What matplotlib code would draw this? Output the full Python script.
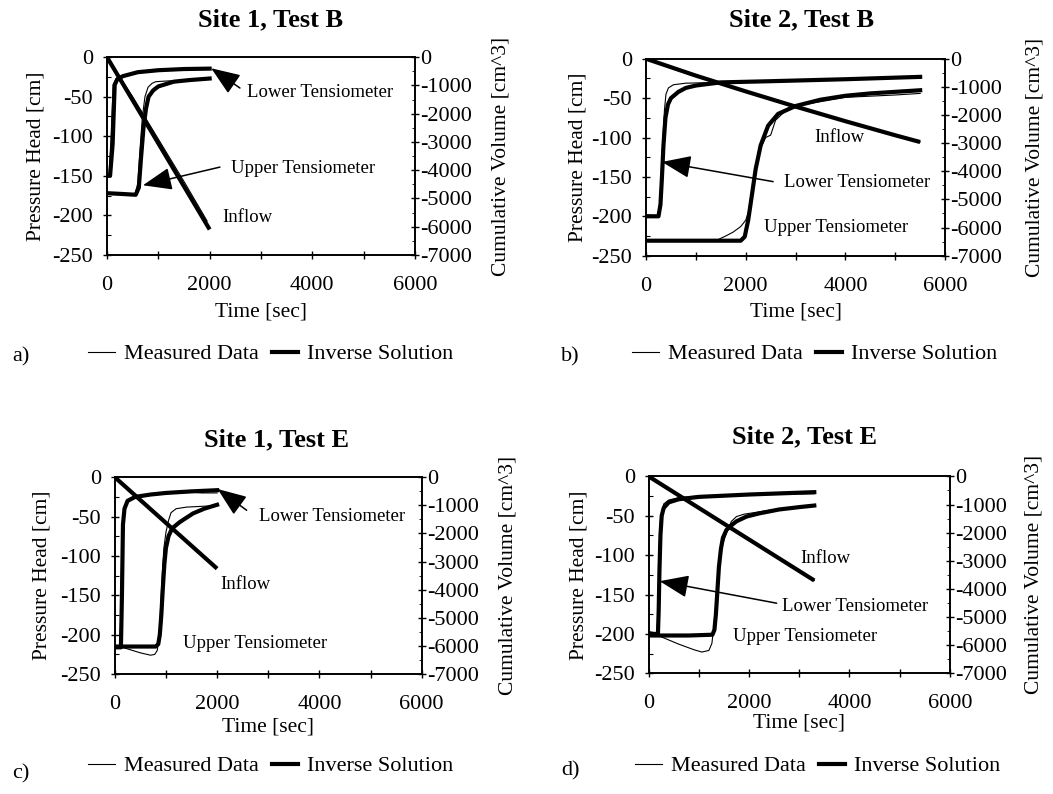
import matplotlib
matplotlib.use('Agg')
import matplotlib.pyplot as plt
from matplotlib.ticker import MultipleLocator

plt.rcParams['font.family'] = ['Liberation Serif', 'DejaVu Serif']
plt.rcParams['axes.unicode_minus'] = False

# ---------------- Site 1, Test B ----------------
a_low_meas_t = [0, 40, 80, 120, 180, 300, 600, 1000, 1500, 2000]
a_low_meas_h = [-152, -150, -100, -35, -27, -23, -19, -16.5, -15, -14.5]
a_low_inv_t = [0, 60, 110, 150, 200, 310, 600, 1000, 1500, 2000]
a_low_inv_h = [-150, -150, -110, -35, -28, -24, -19, -16.5, -15, -14.5]
a_up_meas_t = [0, 300, 540, 600, 640, 690, 740, 800, 880, 950, 1200, 1600, 2000]
a_up_meas_h = [-172, -173, -174, -160, -120, -75, -50, -38, -33, -31, -30, -29, -28]
a_up_inv_t = [0, 300, 560, 620, 660, 710, 760, 810, 900, 1000, 1300, 1600, 2000]
a_up_inv_h = [-172, -173, -174, -165, -130, -90, -65, -50, -42, -37, -31, -29, -27]
a_flow_meas_t = [0, 500, 1000, 1500, 1950]
a_flow_meas_v = [0, -1400, -2900, -4400, -5800]
a_flow_inv_t = [0, 2000]
a_flow_inv_v = [0, -6100]

# ---------------- Site 2, Test B ----------------
b_low_meas_t = [0, 240, 280, 310, 340, 370, 400, 450, 550, 800, 1500, 2500, 4000, 5500]
b_low_meas_h = [-198, -200, -180, -140, -100, -65, -45, -37, -33, -31, -30, -28.5, -26, -24]
b_low_inv_t = [0, 250, 290, 320, 350, 390, 440, 500, 650, 800, 1000, 1500, 2500, 4000, 5500]
b_low_inv_h = [-200, -200, -185, -150, -110, -75, -58, -50, -42, -37, -34, -30, -28.5, -26, -23]
b_up_meas_t = [0, 1400, 1600, 1750, 1900, 2000, 2080, 2150, 2250, 2400, 2500, 2600, 2800, 3000,
               4000, 5000, 5500]
b_up_meas_h = [-231, -231, -225, -220, -213, -205, -190, -160, -120, -100, -97, -78, -66, -60,
               -49, -46, -44]
b_up_inv_t = [0, 1000, 1900, 1980, 2050, 2120, 2200, 2300, 2450, 2650, 3000, 3500, 4000, 4500,
              5000, 5500]
b_up_inv_h = [-231, -231, -231, -226, -205, -175, -140, -110, -85, -70, -60, -52, -47, -44, -42, -40]
b_flow_meas_t = [0, 500, 1000, 2000, 3000, 4000, 5000, 5500]
b_flow_meas_v = [0, -300, -600, -1160, -1700, -2220, -2720, -2960]
b_flow_inv_t = [0, 500, 1000, 2000, 3000, 4000, 5000, 5500]
b_flow_inv_v = [0, -300, -600, -1160, -1700, -2220, -2720, -2960]

# ---------------- Site 1, Test E ----------------
c_low_meas_t = [0, 100, 120, 140, 170, 230, 400, 700, 1000, 1500, 1700, 2000]
c_low_meas_h = [-216, -216, -170, -80, -45, -32, -26, -23, -21, -19, -20, -20]
c_low_inv_t = [0, 120, 140, 160, 190, 250, 400, 700, 1000, 1500, 2000]
c_low_inv_h = [-216, -216, -150, -60, -40, -30, -25, -22, -20, -18, -16.5]
c_up_meas_t = [0, 150, 300, 500, 700, 780, 830, 870, 900, 930, 960, 1000, 1050, 1100, 1200,
               1400, 1700, 2000]
c_up_meas_h = [-215, -216, -219, -223, -226, -225, -220, -200, -160, -120, -90, -70, -55, -45,
               -40, -38, -37, -36]
c_up_inv_t = [0, 400, 800, 850, 880, 910, 940, 970, 1000, 1050, 1120, 1270, 1530, 1750, 2000]
c_up_inv_h = [-215, -215, -215, -212, -200, -175, -140, -110, -90, -75, -65, -57, -46, -40, -35]
c_flow_meas_t = [0, 1000, 1980]
c_flow_meas_v = [0, -1620, -3210]
c_flow_inv_t = [0, 2000]
c_flow_inv_v = [0, -3250]

# ---------------- Site 2, Test E ----------------
d_low_meas_t = [0, 170, 190, 210, 240, 300, 400, 600, 1000, 2000, 3300]
d_low_meas_h = [-197, -199, -160, -90, -50, -35, -30, -27, -25, -23, -22]
d_low_inv_t = [0, 185, 200, 215, 235, 260, 300, 400, 600, 1000, 2000, 3300]
d_low_inv_h = [-200, -200, -170, -120, -75, -50, -40, -33, -29, -26, -23, -20]
d_up_meas_t = [0, 300, 600, 900, 1060, 1200, 1260, 1300, 1340, 1380, 1420, 1480, 1560, 1650,
               1750, 1900, 2100, 2400, 3000, 3300]
d_up_meas_h = [-197, -205, -213, -220, -223, -221, -212, -190, -160, -125, -100, -85, -70, -57,
               -51, -48, -46, -43, -39, -37]
d_up_inv_t = [0, 800, 1270, 1310, 1340, 1370, 1400, 1440, 1480, 1550, 1650, 1750, 1950, 2200,
              2600, 3000, 3300]
d_up_inv_h = [-202, -202, -201, -195, -175, -145, -115, -92, -78, -68, -62, -57, -51, -47, -42,
              -39, -37]
d_flow_meas_t = [0, 1650, 3300]
d_flow_meas_v = [0, -1850, -3700]
d_flow_inv_t = [0, 3300]
d_flow_inv_v = [0, -3700]

THICK = 3.0
THIN = 0.8


def panel(fig, rect, title, title_xy, low_meas, low_inv, up_meas, up_inv, flow_meas, flow_inv,
          labels, arrows, ylab_x, ylab2_x, xlab_y):
    ax = fig.add_axes(rect)
    ax2 = ax.twinx()

    ax.plot(low_inv[0], low_inv[1], color='black', lw=THICK, solid_joinstyle='round')
    ax.plot(up_inv[0], up_inv[1], color='black', lw=THICK, solid_joinstyle='round')
    ax.plot(low_meas[0], low_meas[1], color='black', lw=THIN)
    ax.plot(up_meas[0], up_meas[1], color='black', lw=THIN)
    ax2.plot(flow_inv[0], flow_inv[1], color='black', lw=THICK, solid_capstyle='butt')
    ax2.plot(flow_meas[0], flow_meas[1], color='black', lw=THIN)

    ax.set_xlim(0, 6000)
    ax.set_ylim(-250, 0)
    ax2.set_ylim(-7000, 0)

    ax.xaxis.set_major_locator(MultipleLocator(2000))
    ax.xaxis.set_minor_locator(MultipleLocator(1000))
    ax.yaxis.set_major_locator(MultipleLocator(50))
    ax.yaxis.set_minor_locator(MultipleLocator(25))
    ax2.yaxis.set_major_locator(MultipleLocator(1000))
    ax2.yaxis.set_minor_locator(MultipleLocator(500))

    ax.tick_params(axis='x', which='major', direction='inout', length=6, width=1,
                   labelsize=16, pad=12, top=False)
    ax.tick_params(axis='x', which='minor', direction='inout', length=6, width=1, top=False)
    ax.tick_params(axis='y', which='major', direction='inout', length=6, width=1,
                   labelsize=16, pad=7, right=False)
    ax.tick_params(axis='y', which='minor', direction='in', length=3, width=0.8, right=False)
    ax2.tick_params(axis='y', which='major', direction='inout', length=6, width=1,
                    labelsize=16, pad=1)
    ax2.tick_params(axis='y', which='minor', direction='in', length=2, width=0.6)
    for a_ in (ax, ax2):
        for s in a_.spines.values():
            s.set_linewidth(1.2)

    ax.set_ylabel('Pressure Head [cm]', fontsize=15.5)
    ax.yaxis.set_label_coords(ylab_x, 0.5)
    ax2.set_ylabel('Cumulative Volume [cm^3]', fontsize=15.5)
    ax2.yaxis.set_label_coords(ylab2_x, 0.5)
    ax.set_xlabel('Time [sec]', fontsize=15.5)
    ax.xaxis.set_label_coords(0.5, xlab_y)

    fig.text(title_xy[0] / 1053, 1 - title_xy[1] / 794, title, fontsize=19, fontweight='bold',
             ha='center', va='center')

    for txt, x, y in labels:
        ax.text(x, y, txt, fontsize=13.5, ha='center', va='center')
    for tail, tip in arrows:
        ax.annotate('', xy=tip, xytext=tail,
                    arrowprops=dict(arrowstyle='-|>,head_length=0.9,head_width=0.35',
                                    color='black', lw=1.1, mutation_scale=20,
                                    shrinkA=0, shrinkB=0))
    return ax


def legend_row(fig, x_start, y):
    thin = plt.Line2D([], [], color='black', lw=THIN)
    thick = plt.Line2D([], [], color='black', lw=THICK)
    fig.legend([thin, thick], ['Measured Data', 'Inverse Solution'], ncol=2, frameon=False,
               loc='center left', bbox_to_anchor=(x_start / 1053, 1 - y / 794),
               fontsize=16, handlelength=1.2, handletextpad=0.4, columnspacing=0.6,
               borderpad=0, borderaxespad=0)


fig = plt.figure(figsize=(10.53, 7.94), dpi=100)

panel(fig, [0.1016, 0.679, 0.2925, 0.249], 'Site 1, Test B', (271, 20),
      (a_low_meas_t, a_low_meas_h), (a_low_inv_t, a_low_inv_h),
      (a_up_meas_t, a_up_meas_h), (a_up_inv_t, a_up_inv_h),
      (a_flow_meas_t, a_flow_meas_v), (a_flow_inv_t, a_flow_inv_v),
      [('Lower Tensiometer', 4150, -45), ('Upper Tensiometer', 3820, -141),
       ('Inflow', 2730, -203)],
      [((2590, -39), (2030, -14)), ((2200, -139), (700, -162))],
      -0.200, 1.247, -0.242)

panel(fig, [0.6135, 0.678, 0.284, 0.248], 'Site 2, Test B', (802, 20),
      (b_low_meas_t, b_low_meas_h), (b_low_inv_t, b_low_inv_h),
      (b_up_meas_t, b_up_meas_h), (b_up_inv_t, b_up_inv_h),
      (b_flow_meas_t, b_flow_meas_v), (b_flow_inv_t, b_flow_inv_v),
      [('Inflow', 3875, -100), ('Lower Tensiometer', 4237, -157),
       ('Upper Tensiometer', 3815, -214)],
      [((2550, -156), (320, -131))],
      -0.197, 1.268, -0.239)

panel(fig, [0.109, 0.151, 0.2915, 0.248], 'Site 1, Test E', (276, 440),
      (c_low_meas_t, c_low_meas_h), (c_low_inv_t, c_low_inv_h),
      (c_up_meas_t, c_up_meas_h), (c_up_inv_t, c_up_inv_h),
      (c_flow_meas_t, c_flow_meas_v), (c_flow_inv_t, c_flow_inv_v),
      [('Lower Tensiometer', 4250, -49.5), ('Inflow', 2550, -136),
       ('Upper Tensiometer', 2734, -211)],
      [((2578, -42), (2010, -15))],
      -0.205, 1.251, -0.218)

panel(fig, [0.616, 0.152, 0.286, 0.248], 'Site 2, Test E', (805, 437),
      (d_low_meas_t, d_low_meas_h), (d_low_inv_t, d_low_inv_h),
      (d_up_meas_t, d_up_meas_h), (d_up_inv_t, d_up_inv_h),
      (d_flow_meas_t, d_flow_meas_v), (d_flow_inv_t, d_flow_inv_v),
      [('Inflow', 3526, -104), ('Lower Tensiometer', 4113, -165),
       ('Upper Tensiometer', 3118, -203)],
      [((2550, -161), (219, -133))],
      -0.200, 1.249, -0.205)

legend_row(fig, 88, 354)
legend_row(fig, 632, 354)
legend_row(fig, 88, 766)
legend_row(fig, 635, 766)

for lab, x, y in [('a)', 12, 357), ('b)', 561, 357), ('c)', 12, 774), ('d)', 561, 771)]:
    fig.text(x / 1053, 1 - y / 794, lab, fontsize=16, ha='left', va='center')

fig.savefig('out.png', dpi=100)
